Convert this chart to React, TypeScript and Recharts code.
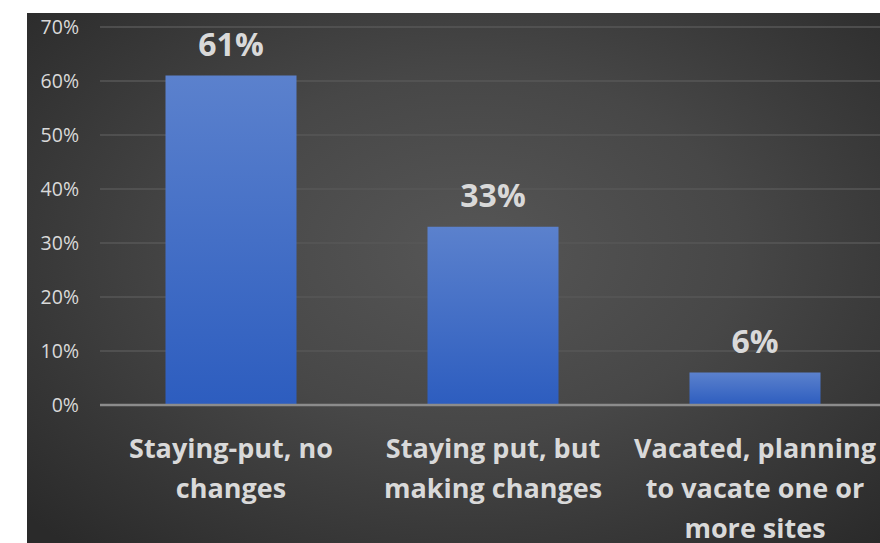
import { BarChart, Bar, XAxis, YAxis, CartesianGrid, LabelList } from "recharts"

// values
const categories = [
  "Staying-put, no changes",
  "Staying put, but making changes",
  "Vacated, planning to vacate one or more sites",
]
const shares = [61, 33, 6]
const yTicks = [0, 10, 20, 30, 40, 50, 60, 70]

const data = categories.map((name, i) => ({ name, value: shares[i] }))

const TEXT = "#d9d9d9"
const FONT = "'Open Sans', 'Noto Sans', sans-serif"

function wrap(label: string, maxChars: number): string[] {
  const lines: string[] = []
  let cur = ""
  for (const w of label.split(" ")) {
    const next = cur ? `${cur} ${w}` : w
    if (next.length > maxChars && cur) {
      lines.push(cur)
      cur = w
    } else {
      cur = next
    }
  }
  if (cur) lines.push(cur)
  return lines
}

function CategoryTick(props: any) {
  const { x, y, payload } = props
  const lines = wrap(String(payload.value), 17)
  return (
    <text
      x={x}
      y={y}
      textAnchor="middle"
      fill={TEXT}
      fontFamily={FONT}
      fontSize={27}
      fontWeight={700}
    >
      {lines.map((line, i) => (
        <tspan key={i} x={x} dy={i === 0 ? 45 : 40}>
          {line}
        </tspan>
      ))}
    </text>
  )
}

function ValueLabel(props: any) {
  const { x, y, width, value } = props
  return (
    <text
      x={x + width / 2}
      y={y - 20}
      textAnchor="middle"
      fill={TEXT}
      fontFamily={FONT}
      fontSize={32}
      fontWeight={700}
    >
      {`${value}%`}
    </text>
  )
}

export default function App() {
  return (
    <div
      style={{
        position: "absolute",
        left: 0,
        top: 0,
        width: 880,
        height: 543,
        background: "#ffffff",
        overflow: "hidden",
      }}
    >
      <div
        style={{
          position: "absolute",
          left: 27,
          top: 13,
          width: 853,
          height: 530,
          background:
            "radial-gradient(ellipse 70% 75% at 52% 45%, #565656 0%, #474747 45%, #2a2a2a 100%)",
        }}
      />
      <div style={{ position: "absolute", left: 0, top: 0 }}>
        <BarChart
          width={886}
          height={543}
          data={data}
          margin={{ top: 27, right: 0, bottom: 0, left: 0 }}
          barCategoryGap="25%"
        >
          <defs>
            <linearGradient id="barFill" x1="0" y1="0" x2="0" y2="1">
              <stop offset="0%" stopColor="#5b81cd" />
              <stop offset="100%" stopColor="#2d5dbf" />
            </linearGradient>
          </defs>
          <CartesianGrid vertical={false} stroke="#575757" strokeWidth={1.5} />
          <XAxis
            dataKey="name"
            height={138}
            tickLine={false}
            axisLine={{ stroke: "#8c8c8c", strokeWidth: 2.5 }}
            interval={0}
            tick={<CategoryTick />}
          />
          <YAxis
            width={100}
            domain={[0, 70]}
            ticks={yTicks}
            axisLine={false}
            tickLine={false}
            tickSize={0}
            tickMargin={21}
            tickFormatter={(v: number) => `${v}%`}
            tick={{ fill: TEXT, fontSize: 19.5, fontFamily: FONT }}
          />
          <Bar dataKey="value" fill="url(#barFill)" isAnimationActive={false}>
            <LabelList dataKey="value" content={<ValueLabel />} />
          </Bar>
        </BarChart>
      </div>
    </div>
  )
}
